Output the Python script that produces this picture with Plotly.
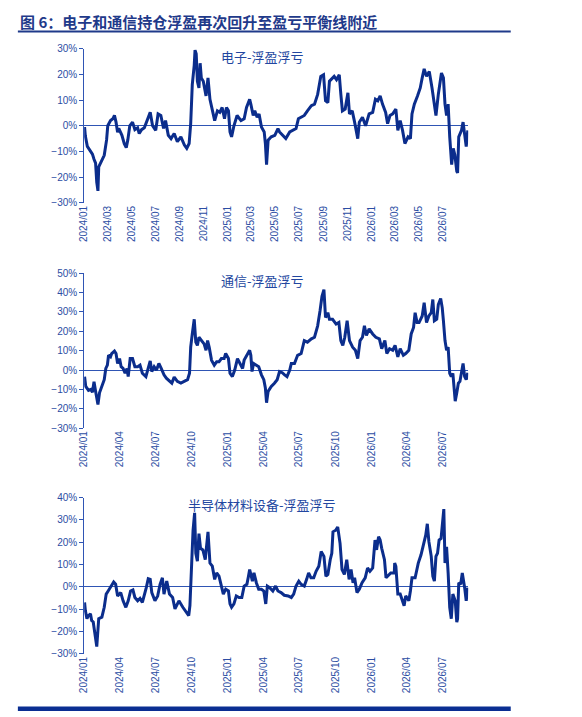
import plotly.graph_objects as go

# 电子-浮盈浮亏 (%)
elec_dates = ["2024-01-02", "2024-01-04", "2024-01-09", "2024-01-16", "2024-01-22", "2024-01-26", "2024-01-30",
              "2024-02-02", "2024-02-05", "2024-02-07", "2024-02-14", "2024-02-21", "2024-02-27", "2024-03-01",
              "2024-03-08", "2024-03-14", "2024-03-18", "2024-03-22", "2024-03-26", "2024-03-29", "2024-04-06",
              "2024-04-12", "2024-04-17", "2024-04-21", "2024-04-26", "2024-05-03", "2024-05-09", "2024-05-16",
              "2024-05-20", "2024-05-26", "2024-06-02", "2024-06-10", "2024-06-17", "2024-06-23", "2024-07-01",
              "2024-07-07", "2024-07-14", "2024-07-21", "2024-07-26", "2024-08-02", "2024-08-09", "2024-08-17",
              "2024-08-25", "2024-09-03", "2024-09-12", "2024-09-18", "2024-09-24", "2024-09-28", "2024-10-02",
              "2024-10-07", "2024-10-09", "2024-10-12", "2024-10-15", "2024-10-19", "2024-10-22", "2024-10-25",
              "2024-10-30", "2024-11-06", "2024-11-11", "2024-11-16", "2024-11-22", "2024-11-28", "2024-12-05",
              "2024-12-11", "2024-12-17", "2024-12-23", "2024-12-28", "2025-01-02", "2025-01-06", "2025-01-10",
              "2025-01-16", "2025-01-24", "2025-02-03", "2025-02-11", "2025-02-17", "2025-02-25", "2025-02-28",
              "2025-03-06", "2025-03-10", "2025-03-16", "2025-03-21", "2025-03-27", "2025-04-03", "2025-04-06",
              "2025-04-09", "2025-04-13", "2025-04-21", "2025-04-30", "2025-05-08", "2025-05-12", "2025-05-20",
              "2025-05-28", "2025-06-07", "2025-06-15", "2025-06-23", "2025-06-29", "2025-07-06", "2025-07-14",
              "2025-07-22", "2025-08-01", "2025-08-09", "2025-08-17", "2025-08-25", "2025-09-01", "2025-09-06",
              "2025-09-12", "2025-09-16", "2025-09-24", "2025-09-28", "2025-10-04", "2025-10-11", "2025-10-15",
              "2025-10-19", "2025-10-26", "2025-11-02", "2025-11-06", "2025-11-13", "2025-11-19", "2025-11-27",
              "2025-12-01", "2025-12-09", "2025-12-17", "2025-12-26", "2026-01-04", "2026-01-11", "2026-01-17",
              "2026-01-23", "2026-01-29", "2026-02-06", "2026-02-11", "2026-02-17", "2026-02-24", "2026-03-04",
              "2026-03-09", "2026-03-15", "2026-03-21", "2026-03-27", "2026-04-04", "2026-04-10", "2026-04-14",
              "2026-04-20", "2026-04-28", "2026-05-05", "2026-05-10", "2026-05-15", "2026-05-21", "2026-05-28",
              "2026-06-04", "2026-06-10", "2026-06-14", "2026-06-20", "2026-06-24", "2026-06-28", "2026-07-03",
              "2026-07-07", "2026-07-11", "2026-07-15", "2026-07-19", "2026-07-24", "2026-07-28", "2026-08-01",
              "2026-08-06", "2026-08-08", "2026-08-11", "2026-08-18", "2026-08-22", "2026-08-26", "2026-08-30",
              "2026-09-03"]
elec_vals = [-0.5, -4, -8, -9.5, -11, -13, -14.5,
             -22, -25.3, -16, -14, -11.5, -5.5, 0,
             2, 2.7, 4, 1.4, -2.5, -1, -3.7,
             -7, -8.5, -5.5, 0, 1.4, -1.5, -0.8,
             -3, -1.5, -0.8, 2.7, 5.2, 0, -1.8,
             4.6, 4, -1, 2, -3.7, -5, -3,
             -6.2, -4.3, -7.5, -8.8, -6.9, 0.8, 16,
             23.6, 29.4, 28, 17.3, 14.7, 24.3, 18.6,
             17.3, 11.6, 18.6, 10.3, 5.8, 2, 5.8,
             5.2, 7.1, 2.7, 7.1, 5.8, -2.4, -4.3,
             0, 4, 2, 2.7, 7.1, 10.3, 8.4,
             4, 5.8, 3.3, 4.6, -0.5, -2.4, -6.9,
             -15.1, -5.6, -4.3, -3.7, -1.1, -2.4, -3.7,
             -5, -2.4, -1.8, -1.1, 2.7, 3.3, 4,
             5.8, 7.8, 8.4, 12.2, 19.2, 19.8, 9.7,
             9, 17.3, 18.6, 19.2, 17.9, 19.8, 12.2,
             5.8, 6.5, 12.8, 4.6, 5.8, 1.4, -5,
             1.4, 3.3, 0, 4.6, 5.2, 10.3, 9.7,
             11.6, 8.4, 5.2, 0.8, 4, 4.6, 6.5,
             -1.8, 2, -1.8, -6.9, -4.3, -5, 4.6,
             8.4, 11.6, 14.7, 18.6, 22.1, 19.2, 21.1,
             14.7, 8.4, 4, 12.2, 17.3, 20.5, 18.6,
             8.4, 4, 8.4, -4.3, -15.1, -8.8, -11.3,
             -17.7, -18.3, -4.3, -1.8, 1.4, -4.3, -8.1,
             -1.8]

# 通信-浮盈浮亏 (%)
comm_dates = ["2024-01-02", "2024-01-05", "2024-01-12", "2024-01-18", "2024-01-22", "2024-01-26", "2024-01-30",
              "2024-02-05", "2024-02-09", "2024-02-15", "2024-02-21", "2024-02-25", "2024-02-29", "2024-03-03",
              "2024-03-08", "2024-03-11", "2024-03-18", "2024-03-22", "2024-03-26", "2024-03-31", "2024-04-04",
              "2024-04-09", "2024-04-14", "2024-04-19", "2024-04-22", "2024-04-27", "2024-05-03", "2024-05-09",
              "2024-05-16", "2024-05-22", "2024-05-28", "2024-06-06", "2024-06-12", "2024-06-17", "2024-06-21",
              "2024-06-27", "2024-07-03", "2024-07-09", "2024-07-15", "2024-07-22", "2024-07-28", "2024-08-05",
              "2024-08-11", "2024-08-17", "2024-08-25", "2024-09-03", "2024-09-12", "2024-09-20", "2024-09-25",
              "2024-09-28", "2024-10-02", "2024-10-07", "2024-10-11", "2024-10-15", "2024-10-19", "2024-10-25",
              "2024-11-01", "2024-11-06", "2024-11-10", "2024-11-14", "2024-11-20", "2024-11-27", "2024-12-03",
              "2024-12-09", "2024-12-15", "2024-12-22", "2024-12-26", "2025-01-02", "2025-01-06", "2025-01-12",
              "2025-01-18", "2025-01-25", "2025-02-01", "2025-02-07", "2025-02-11", "2025-02-18", "2025-02-25",
              "2025-02-28", "2025-03-03", "2025-03-07", "2025-03-14", "2025-03-20", "2025-03-27", "2025-04-02",
              "2025-04-06", "2025-04-09", "2025-04-13", "2025-04-21", "2025-04-29", "2025-05-06", "2025-05-12",
              "2025-05-19", "2025-05-25", "2025-05-31", "2025-06-07", "2025-06-11", "2025-06-19", "2025-06-27",
              "2025-07-06", "2025-07-14", "2025-07-22", "2025-08-01", "2025-08-09", "2025-08-17", "2025-08-23",
              "2025-08-28", "2025-09-02", "2025-09-06", "2025-09-12", "2025-09-16", "2025-09-24", "2025-10-03",
              "2025-10-10", "2025-10-15", "2025-10-20", "2025-10-25", "2025-10-31", "2025-11-06", "2025-11-14",
              "2025-11-21", "2025-11-27", "2025-12-03", "2025-12-09", "2025-12-14", "2025-12-19", "2025-12-26",
              "2026-01-04", "2026-01-12", "2026-01-21", "2026-01-27", "2026-02-04", "2026-02-09", "2026-02-16",
              "2026-02-24", "2026-03-02", "2026-03-09", "2026-03-15", "2026-03-23", "2026-03-29", "2026-04-06",
              "2026-04-12", "2026-04-18", "2026-04-22", "2026-04-27", "2026-05-02", "2026-05-10", "2026-05-15",
              "2026-05-21", "2026-05-27", "2026-06-02", "2026-06-06", "2026-06-10", "2026-06-16", "2026-06-20",
              "2026-06-26", "2026-06-30", "2026-07-03", "2026-07-07", "2026-07-11", "2026-07-15", "2026-07-19",
              "2026-07-23", "2026-07-27", "2026-08-02", "2026-08-06", "2026-08-10", "2026-08-14", "2026-08-18",
              "2026-08-22", "2026-08-26", "2026-08-30", "2026-09-03"]
comm_vals = [-3.4, -8.5, -10.5, -10, -11.5, -6, -11,
             -17.8, -11.8, -8.5, -5, 0.8, 2.5, 7.6,
             6.8, 8.5, 9.8, 8.5, 3.4, 5.9, 1.7,
             0.8, -1.7, 0.8, -3.4, 5.9, 5.9, 1.7,
             1.7, 2.5, -1.7, -3.4, 0.8, 4.7, -0.8,
             1.7, 0, 3.4, 0.8, -2.5, -4.2, -5.9,
             -6.8, -3.7, -5.9, -6.8, -5.9, -5, -1.7,
             11.8, 18.6, 26.2, 14.4, 12.7, 16.9, 15.2,
             13.5, 10.2, 15.2, 11.8, 5.1, 2.5, 4.2,
             4.2, 5.9, 5.9, 8.5, 5.9, -1.7, -3.4,
             0, 5.9, 3.4, 0.8, 5.1, 7.6, 10.2,
             7.6, -0.8, 3.4, 2.5, 1.7, -2.5, -5,
             -9.3, -16.9, -11, -8.5, -6.8, -5, -0.8,
             -1.4, -2.5, -3.4, 0, 3.4, 3.4, 7.6,
             8.5, 15.2, 14.4, 16.1, 16.9, 22.8, 30.5,
             38.1, 41.5, 27.1, 29.6, 26.2, 26.2, 23.7,
             24.5, 15.2, 12.7, 16.9, 25.4, 15.2, 11.8,
             10.2, 5.9, 15.2, 16.9, 22.8, 17.8, 21.2,
             18.6, 16.9, 16.1, 11, 15.2, 8.5, 11,
             10.2, 12.7, 6.8, 11, 7.6, 8.5, 10.2,
             18.6, 22, 29.6, 24.5, 24.5, 27.9, 34.7,
             24.5, 27.9, 29.6, 36.4, 25.4, 26.2, 33.8,
             36.9, 32.1, 25.4, 15.2, 10.2, 11.8, -1.7,
             -3.4, -1.7, -16.1, -11.8, -6.8, -5.9, -0.8,
             3.4, -3.4, -5, -1.4]

# 半导体材料设备-浮盈浮亏 (%)
semi_dates = ["2024-01-02", "2024-01-04", "2024-01-08", "2024-01-12", "2024-01-17", "2024-01-20", "2024-01-24",
              "2024-01-28", "2024-02-02", "2024-02-07", "2024-02-15", "2024-02-21", "2024-02-26", "2024-03-02",
              "2024-03-08", "2024-03-11", "2024-03-16", "2024-03-21", "2024-03-26", "2024-04-03", "2024-04-09",
              "2024-04-16", "2024-04-22", "2024-04-28", "2024-05-04", "2024-05-09", "2024-05-16", "2024-05-22",
              "2024-05-28", "2024-06-07", "2024-06-12", "2024-06-17", "2024-06-21", "2024-06-29", "2024-07-06",
              "2024-07-12", "2024-07-18", "2024-07-22", "2024-07-29", "2024-08-05", "2024-08-13", "2024-08-19",
              "2024-08-25", "2024-08-29", "2024-09-08", "2024-09-16", "2024-09-23", "2024-09-26", "2024-09-30",
              "2024-10-04", "2024-10-08", "2024-10-11", "2024-10-15", "2024-10-19", "2024-10-23", "2024-10-29",
              "2024-11-04", "2024-11-08", "2024-11-11", "2024-11-16", "2024-11-22", "2024-11-28", "2024-12-03",
              "2024-12-09", "2024-12-15", "2024-12-20", "2024-12-26", "2025-01-02", "2025-01-06", "2025-01-10",
              "2025-01-16", "2025-01-22", "2025-01-29", "2025-02-05", "2025-02-11", "2025-02-18", "2025-02-22",
              "2025-02-25", "2025-02-28", "2025-03-04", "2025-03-08", "2025-03-14", "2025-03-20", "2025-03-27",
              "2025-04-02", "2025-04-07", "2025-04-11", "2025-04-17", "2025-04-25", "2025-05-02", "2025-05-08",
              "2025-05-16", "2025-05-24", "2025-06-03", "2025-06-11", "2025-06-17", "2025-06-23", "2025-06-30",
              "2025-07-06", "2025-07-14", "2025-07-20", "2025-07-25", "2025-07-31", "2025-08-07", "2025-08-13",
              "2025-08-20", "2025-08-26", "2025-09-02", "2025-09-07", "2025-09-12", "2025-09-18", "2025-09-22",
              "2025-09-25", "2025-10-02", "2025-10-07", "2025-10-13", "2025-10-18", "2025-10-24", "2025-10-30",
              "2025-11-05", "2025-11-10", "2025-11-15", "2025-11-19", "2025-11-25", "2025-12-01", "2025-12-08",
              "2025-12-16", "2025-12-22", "2025-12-28", "2026-01-04", "2026-01-10", "2026-01-14", "2026-01-19",
              "2026-01-23", "2026-01-27", "2026-02-03", "2026-02-07", "2026-02-14", "2026-02-19", "2026-02-28",
              "2026-03-01", "2026-03-04", "2026-03-09", "2026-03-15", "2026-03-19", "2026-03-25", "2026-03-29",
              "2026-04-06", "2026-04-10", "2026-04-14", "2026-04-22", "2026-04-30", "2026-05-07", "2026-05-13",
              "2026-05-19", "2026-05-23", "2026-05-27", "2026-06-02", "2026-06-06", "2026-06-10", "2026-06-14",
              "2026-06-18", "2026-06-22", "2026-06-27", "2026-06-30", "2026-07-04", "2026-07-07", "2026-07-11",
              "2026-07-15", "2026-07-19", "2026-07-23", "2026-07-27", "2026-08-02", "2026-08-06", "2026-08-08",
              "2026-08-11", "2026-08-16", "2026-08-20", "2026-08-26", "2026-08-30", "2026-09-03"]
semi_vals = [-6.9, -10.6, -14.2, -12.8, -12, -15, -15.7,
             -21.6, -26.7, -14.2, -13.5, -9.1, -3.2, -1.8,
             -0.3, 0.4, 2.2, 1.2, -4, -2.5, -6.2,
             -9.1, -6.2, -1.8, -1.3, -4.7, -6.2, -5.1,
             -6.9, -0.3, 3.7, 3.4, -2.5, -6.2, -4,
             1.2, 4.1, -3.2, 2.6, -3.2, -4.7, -9.8,
             -7.6, -6.2, -9.1, -11.3, -12.8, -8.4, 12.2,
             25.4, 33.2, 15.1, 11.5, 23.9, 17.3, 16.6,
             12.2, 19.5, 24.7, 10.7, 9.3, 3.4, 6.3,
             4.8, 0.4, -3.2, -1, -1.8, -7.6, -9.1,
             -7.6, -4, -4.7, -4.7, 0.4, 1.2, 4.8,
             7.8, 5.6, 2.6, 6.3, 1.9, -1, -1,
             -1.8, -7.6, 0.4, -0.3, -1.8, 0.4, -1.8,
             -2.5, -3.7, -4, -4.7, -3.2, 0.4, 2.6,
             1.2, 0.4, 3.4, 6.3, 4.1, 4.1, 7.0,
             9.3, 15.9, 13.7, 4.8, 5.6, 12.2, 15.1,
             24.7, 25.4, 26.9, 19.5, 7.8, 5.6, 12.2,
             3.4, 7.8, 1.9, 4.1, -2.5, -1, 1.9,
             4.1, 8.5, 7.0, 8.5, 21, 16.6, 22.5,
             21, 17.3, 12.2, 4.1, 5.6, 6.3, 6.3,
             10.7, 9.3, -3.2, -3.2, -5.4, -8.4, -4,
             -6.2, -1.8, 4.1, 4.1, 10.7, 14.4, 19.5,
             23.2, 28.3, 20.3, 13.7, 4.8, 2.6, 13.7,
             15.1, 21, 21.7, 27.6, 34.9, 10.7, 18,
             6.3, -9.1, -14.2, -3.2, -6.2, -15.7, -14.2,
             1.9, 1.2, 6.3, -0.3, -6.2, -0.3]

panel_titles = ["电子-浮盈浮亏", "通信-浮盈浮亏", "半导体材料设备-浮盈浮亏"]
y_ranges = [[-30, 30], [-30, 50], [-30, 40]]
# x tick months shown under each panel
ticks_2m = ["2024-01-01", "2024-03-01", "2024-05-01", "2024-07-01", "2024-09-01", "2024-11-01",
            "2025-01-01", "2025-03-01", "2025-05-01", "2025-07-01", "2025-09-01", "2025-11-01",
            "2026-01-01", "2026-03-01", "2026-05-01", "2026-07-01"]
ticks_3m = ["2024-01-01", "2024-04-01", "2024-07-01", "2024-10-01", "2025-01-01", "2025-04-01",
            "2025-07-01", "2025-10-01", "2026-01-01", "2026-04-01", "2026-07-01"]
x_ticks = [ticks_2m, ticks_3m, ticks_3m]

W, H = 582, 717
LINE = "#0B2D8C"
AXIS = "#2F55B4"
TXT = "#2B4DA3"
TICKFONT = dict(family="Liberation Sans, Arial", size=10, color=TXT)


def py(px):
    return 1 - px / H


# y pixel spans of the three panels (top, bottom)
panels = [(43.3, 200.3), (271.7, 429.3), (500, 659)]
x_dom = [79 / W, 467 / W]

fig = go.Figure()
series = [(elec_dates, elec_vals), (comm_dates, comm_vals), (semi_dates, semi_vals)]
layout = {}
for i, (d, v) in enumerate(series):
    n = "" if i == 0 else str(i + 1)
    fig.add_trace(go.Scatter(x=d, y=v, mode="lines", line=dict(color=LINE, width=3),
                             xaxis="x" + n, yaxis="y" + n, showlegend=False, hoverinfo="x+y"))
    top, bot = panels[i]
    layout["xaxis" + n] = dict(domain=x_dom, anchor="y" + n, type="date",
                               range=["2024-01-01", "2026-09-04"],
                               tickvals=x_ticks[i], tickformat="%Y/%m",
                               tickangle=-90, tickfont=TICKFONT, showgrid=False,
                               showline=False, zeroline=False, ticks="")
    layout["yaxis" + n] = dict(domain=[py(bot), py(top)], anchor="x" + n,
                               range=y_ranges[i], dtick=10, ticksuffix="%",
                               tickfont=TICKFONT, showgrid=False,
                               showline=True, linecolor=AXIS, linewidth=1,
                               ticks="outside", ticklen=4, tickcolor=AXIS,
                               zeroline=True, zerolinecolor=AXIS, zerolinewidth=1.2)

annotations = [dict(text="<b>图 6：电子和通信持仓浮盈再次回升至盈亏平衡线附近</b>",
                    x=12 / W, y=py(16), xref="paper", yref="paper", xanchor="left", yanchor="middle",
                    showarrow=False, font=dict(family="Noto Sans CJK SC", size=15, color="#1F3A8A"))]
title_y = [51, 279, 507]
for t, ty in zip(panel_titles, title_y):
    annotations.append(dict(text=t, x=259 / W, y=py(ty), xref="paper", yref="paper",
                            xanchor="center", yanchor="middle", showarrow=False,
                            font=dict(family="Noto Sans CJK SC", size=13, color="#2246A0")))

shapes = [dict(type="line", xref="paper", yref="paper", x0=12 / W, x1=510 / W, y0=py(26), y1=py(26),
               line=dict(color="#1F3A8A", width=2)),
          dict(type="rect", xref="paper", yref="paper", x0=12 / W, x1=510 / W, y0=py(717), y1=py(712.5),
               line=dict(width=0), fillcolor="#0A2E92")]

fig.update_layout(width=W, height=H, margin=dict(l=0, r=0, t=0, b=0),
                  paper_bgcolor="white", plot_bgcolor="white",
                  annotations=annotations, shapes=shapes, **layout)

fig.write_html("out.html", config={"displayModeBar": False},
               post_script="document.body.style.margin='0';document.body.style.overflow='hidden';")
